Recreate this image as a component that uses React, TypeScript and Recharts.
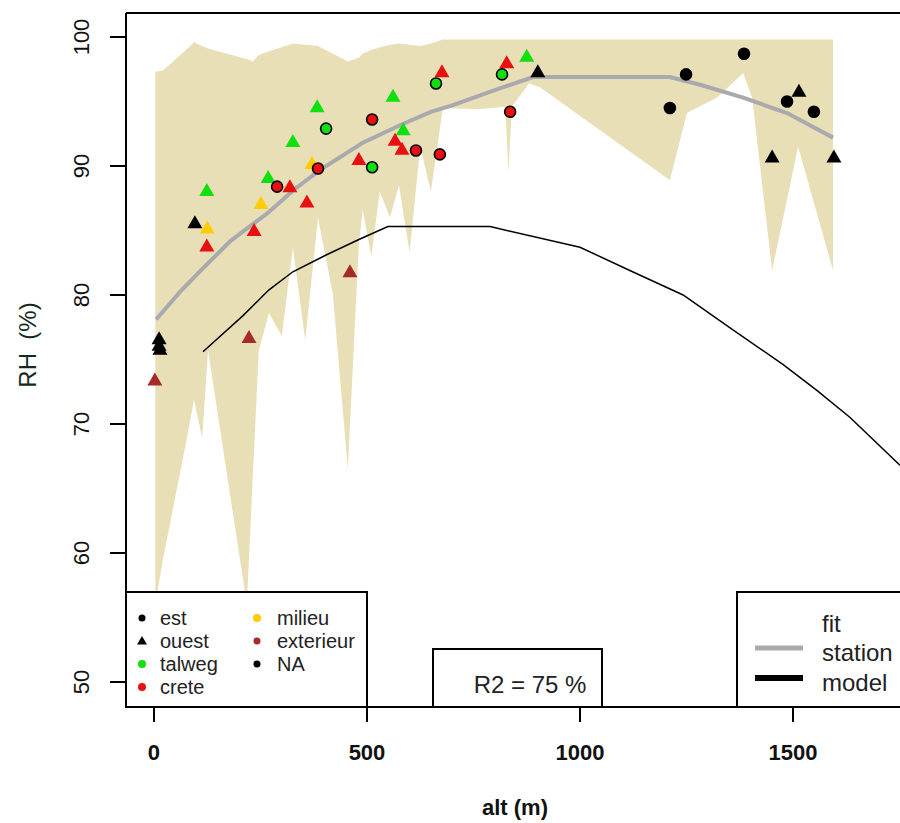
import { Area, ComposedChart, Line, Scatter, XAxis, YAxis } from "recharts";

// axis ticks
const xTicks = [0, 500, 1000, 1500];
const yTicks = [50, 60, 70, 80, 90, 100];

// min / max RH envelope over the stations, by altitude: [alt, low, high]
const envelope: [number, number, number][] = [
  [3, 56.0, 97.3],
  [21, 59.5, 97.4],
  [75, 68.5, 99.0],
  [94, 71.9, 99.6],
  [113, 68.9, 99.3],
  [127, 75.7, 99.1],
  [150, 70.7, 98.9],
  [218, 56.0, 98.3],
  [232, 65.9, 98.1],
  [246, 75.7, 98.6],
  [270, 78.6, 98.9],
  [300, 76.8, 99.2],
  [326, 83.7, 99.5],
  [355, 76.5, 99.4],
  [385, 86.0, 99.3],
  [420, 80.0, 98.7],
  [455, 66.5, 98.1],
  [481, 84.0, 98.4],
  [490, 86.6, 98.7],
  [510, 83.0, 99.0],
  [530, 88.0, 99.2],
  [554, 86.0, 99.4],
  [575, 88.5, 99.5],
  [600, 83.3, 99.4],
  [625, 91.5, 99.3],
  [650, 88.0, 99.5],
  [678, 94.5, 99.8],
  [760, 94.4, 99.8],
  [825, 94.6, 99.8],
  [832, 89.5, 99.8],
  [840, 94.6, 99.8],
  [880, 96.4, 99.8],
  [906, 96.1, 99.8],
  [1211, 88.9, 99.8],
  [1251, 94.1, 99.8],
  [1322, 95.3, 99.8],
  [1383, 97.2, 99.8],
  [1404, 95.3, 99.8],
  [1451, 81.9, 99.8],
  [1512, 91.5, 99.8],
  [1594, 81.9, 99.8],
];

// fitted curve through the stations
const stationFit = [
  { alt: 5, rh: 78.1 },
  { alt: 60, rh: 80.2 },
  { alt: 110, rh: 81.9 },
  { alt: 180, rh: 84.2 },
  { alt: 265, rh: 86.3 },
  { alt: 330, rh: 88.2 },
  { alt: 390, rh: 89.7 },
  { alt: 490, rh: 91.8 },
  { alt: 580, rh: 93.2 },
  { alt: 650, rh: 94.2 },
  { alt: 700, rh: 94.7 },
  { alt: 810, rh: 96.0 },
  { alt: 890, rh: 96.9 },
  { alt: 1211, rh: 96.9 },
  { alt: 1282, rh: 96.3 },
  { alt: 1383, rh: 95.3 },
  { alt: 1486, rh: 94.1 },
  { alt: 1594, rh: 92.2 },
];

// model profile
const modelFit = [
  { alt: 115, rh: 75.6 },
  { alt: 209, rh: 78.4 },
  { alt: 270, rh: 80.4 },
  { alt: 326, rh: 81.8 },
  { alt: 404, rh: 83.1 },
  { alt: 481, rh: 84.3 },
  { alt: 549, rh: 85.3 },
  { alt: 789, rh: 85.3 },
  { alt: 1000, rh: 83.7 },
  { alt: 1117, rh: 81.9 },
  { alt: 1242, rh: 80.0 },
  { alt: 1359, rh: 77.3 },
  { alt: 1477, rh: 74.6 },
  { alt: 1556, rh: 72.6 },
  { alt: 1634, rh: 70.5 },
  { alt: 1751, rh: 66.8 },
];

// stations facing west (triangles)
const ouestNA = [
  { alt: 12, rh: 76.6 },
  { alt: 12, rh: 76.1 },
  { alt: 14, rh: 75.8 },
  { alt: 96, rh: 85.6 },
  { alt: 901, rh: 97.3 },
  { alt: 1451, rh: 90.7 },
  { alt: 1514, rh: 95.8 },
  { alt: 1596, rh: 90.7 },
];
const ouestExterieur = [
  { alt: 2, rh: 73.4 },
  { alt: 223, rh: 76.7 },
  { alt: 460, rh: 81.8 },
];
const ouestMilieu = [
  { alt: 125, rh: 85.2 },
  { alt: 251, rh: 87.1 },
  { alt: 371, rh: 90.2 },
];
const ouestTalweg = [
  { alt: 124, rh: 88.1 },
  { alt: 268, rh: 89.1 },
  { alt: 326, rh: 91.9 },
  { alt: 383, rh: 94.6 },
  { alt: 561, rh: 95.4 },
  { alt: 585, rh: 92.8 },
  { alt: 875, rh: 98.5 },
];
const ouestCrete = [
  { alt: 124, rh: 83.8 },
  { alt: 235, rh: 85.0 },
  { alt: 319, rh: 88.4 },
  { alt: 359, rh: 87.2 },
  { alt: 481, rh: 90.5 },
  { alt: 566, rh: 92.0 },
  { alt: 582, rh: 91.3 },
  { alt: 676, rh: 97.3 },
  { alt: 828, rh: 98.0 },
];

// stations facing east (circles)
const estNA = [
  { alt: 1211, rh: 94.5 },
  { alt: 1249, rh: 97.1 },
  { alt: 1385, rh: 98.7 },
  { alt: 1486, rh: 95.0 },
  { alt: 1549, rh: 94.2 },
];
const estTalweg = [
  { alt: 404, rh: 92.9 },
  { alt: 512, rh: 89.9 },
  { alt: 662, rh: 96.4 },
  { alt: 817, rh: 97.1 },
];
const estCrete = [
  { alt: 289, rh: 88.4 },
  { alt: 385, rh: 89.8 },
  { alt: 512, rh: 93.6 },
  { alt: 615, rh: 91.2 },
  { alt: 671, rh: 90.9 },
  { alt: 836, rh: 94.2 },
];

const COL = {
  talweg: "#10e010",
  crete: "#e81010",
  milieu: "#ffcc00",
  exterieur: "#a52a2a",
  na: "#000000",
};

const bandData = envelope.map(([alt, low, high]) => ({ alt, range: [low, high] }));

const triangle = (color: string) => (props: any) => {
  const { cx, cy } = props;
  return (
    <polygon
      points={`${cx},${cy - 7.5} ${cx - 7.5},${cy + 5.5} ${cx + 7.5},${cy + 5.5}`}
      fill={color}
    />
  );
};

const disc = (color: string) => (props: any) => {
  const { cx, cy } = props;
  return <circle cx={cx} cy={cy} r={5.5} fill={color} stroke="#000" strokeWidth={1.6} />;
};

const YTick = (props: any) => {
  const { y, payload } = props;
  return (
    <text
      x={82}
      y={y}
      transform={`rotate(-90 82 ${y})`}
      textAnchor="middle"
      dominantBaseline="central"
      fontSize={22}
      fill="#111"
    >
      {payload.value}
    </text>
  );
};

const XTick = (props: any) => {
  const { x, payload } = props;
  return (
    <text x={x} y={752} textAnchor="middle" dominantBaseline="central" fontSize={22} fontWeight="bold" fill="#111">
      {payload.value}
    </text>
  );
};

const legendRows = [618, 641, 664, 687];

export default function App() {
  return (
    <div
      style={{
        position: "absolute",
        left: 0,
        top: 0,
        width: 900,
        height: 823,
        overflow: "hidden",
        background: "#fff",
        fontFamily: "'Liberation Sans', Arial, sans-serif",
      }}
    >
      <ComposedChart width={910} height={823} margin={{ top: 13, right: 5, bottom: 0, left: 0 }}>
        <XAxis
          type="number"
          dataKey="alt"
          domain={[-65.7, 1762.9]}
          allowDataOverflow
          ticks={xTicks}
          height={116}
          tickSize={15}
          tick={<XTick />}
          axisLine={{ stroke: "#000", strokeWidth: 2 }}
          tickLine={{ stroke: "#000", strokeWidth: 2 }}
        />
        <YAxis
          type="number"
          domain={[48.06, 101.86]}
          allowDataOverflow
          ticks={yTicks}
          width={126}
          tickSize={16}
          tick={<YTick />}
          axisLine={{ stroke: "#000", strokeWidth: 2 }}
          tickLine={{ stroke: "#000", strokeWidth: 2 }}
        />
        <Area
          data={bandData}
          dataKey="range"
          type="linear"
          stroke="none"
          fill="#e8dfb7"
          fillOpacity={1}
          isAnimationActive={false}
        />
        <Line
          data={stationFit}
          dataKey="rh"
          type="linear"
          stroke="#a9a9ae"
          strokeWidth={4}
          dot={false}
          isAnimationActive={false}
        />
        <Line
          data={modelFit}
          dataKey="rh"
          type="linear"
          stroke="#000"
          strokeWidth={1.5}
          dot={false}
          isAnimationActive={false}
        />
        <Scatter data={ouestExterieur} dataKey="rh" shape={triangle(COL.exterieur)} isAnimationActive={false} />
        <Scatter data={ouestNA} dataKey="rh" shape={triangle(COL.na)} isAnimationActive={false} />
        <Scatter data={ouestMilieu} dataKey="rh" shape={triangle(COL.milieu)} isAnimationActive={false} />
        <Scatter data={ouestTalweg} dataKey="rh" shape={triangle(COL.talweg)} isAnimationActive={false} />
        <Scatter data={ouestCrete} dataKey="rh" shape={triangle(COL.crete)} isAnimationActive={false} />
        <Scatter data={estNA} dataKey="rh" shape={disc(COL.na)} isAnimationActive={false} />
        <Scatter data={estTalweg} dataKey="rh" shape={disc(COL.talweg)} isAnimationActive={false} />
        <Scatter data={estCrete} dataKey="rh" shape={disc(COL.crete)} isAnimationActive={false} />
      </ComposedChart>

      <svg
        width={900}
        height={823}
        style={{ position: "absolute", left: 0, top: 0, pointerEvents: "none" }}
        fontFamily="'Liberation Sans', Arial, sans-serif"
      >
        <line x1={126} y1={13} x2={900} y2={13} stroke="#000" strokeWidth={2} />

        {/* axis titles */}
        <text x={27} y={345} transform="rotate(-90 27 345)" textAnchor="middle" dominantBaseline="central" fontSize={24} fill="#132a20" xmlSpace="preserve">
          RH  (%)
        </text>
        <text x={515} y={807} textAnchor="middle" dominantBaseline="central" fontSize={22} fontWeight="bold" fill="#111">
          alt (m)
        </text>

        {/* exposure / position legend */}
        <rect x={126} y={592} width={241} height={115} fill="#fff" stroke="#000" strokeWidth={2} />
        <circle cx={142} cy={legendRows[0]} r={3.5} fill={COL.na} />
        <polygon points={`142,${legendRows[1] - 5} 137,${legendRows[1] + 3.5} 147,${legendRows[1] + 3.5}`} fill="#000" />
        <circle cx={142} cy={legendRows[2]} r={4} fill={COL.talweg} />
        <circle cx={142} cy={legendRows[3]} r={4} fill={COL.crete} />
        <circle cx={257} cy={legendRows[0]} r={4} fill={COL.milieu} />
        <circle cx={257} cy={legendRows[1]} r={3.5} fill={COL.exterieur} />
        <circle cx={257} cy={legendRows[2]} r={3.5} fill={COL.na} />
        <g fontSize={20} fill="#222" dominantBaseline="central">
          <text x={160} y={legendRows[0]}>est</text>
          <text x={160} y={legendRows[1]}>ouest</text>
          <text x={160} y={legendRows[2]}>talweg</text>
          <text x={160} y={legendRows[3]}>crete</text>
          <text x={277} y={legendRows[0]}>milieu</text>
          <text x={277} y={legendRows[1]}>exterieur</text>
          <text x={277} y={legendRows[2]}>NA</text>
        </g>

        {/* goodness of fit */}
        <rect x={433} y={649} width={169} height={58} fill="#fff" stroke="#000" strokeWidth={2} />
        <text x={530} y={684} textAnchor="middle" dominantBaseline="central" fontSize={24} fill="#222">
          R2 = 75 %
        </text>

        {/* line legend */}
        <rect x={737} y={592} width={200} height={115} fill="#fff" stroke="#000" strokeWidth={2} />
        <line x1={755} y1={648} x2={803} y2={648} stroke="#a9a9ae" strokeWidth={5} />
        <line x1={755} y1={678} x2={803} y2={678} stroke="#000" strokeWidth={6} />
        <g fontSize={24} fill="#222" dominantBaseline="central">
          <text x={822} y={623}>fit</text>
          <text x={822} y={652}>station</text>
          <text x={822} y={682}>model</text>
        </g>
      </svg>
    </div>
  );
}
